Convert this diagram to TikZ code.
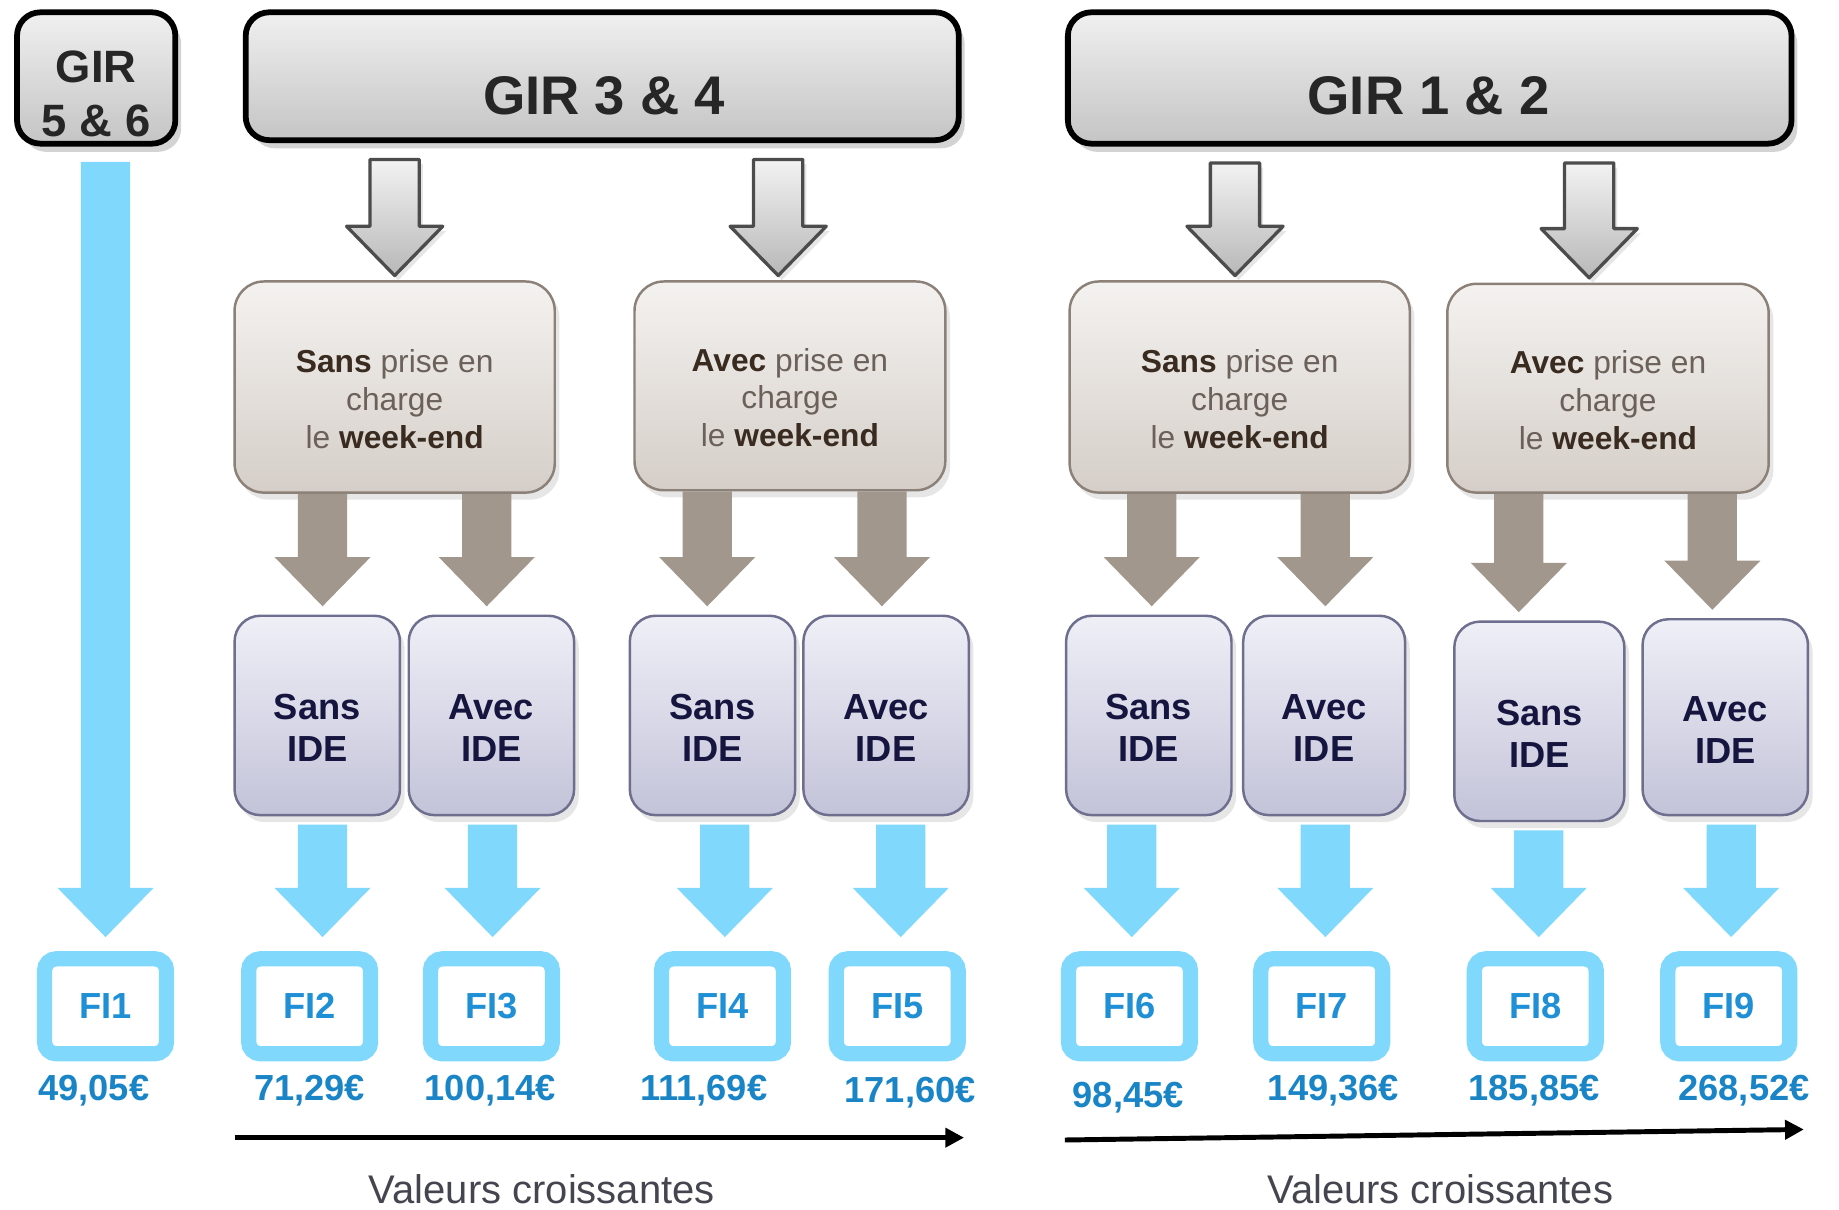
\documentclass[tikz,border=0pt]{standalone}
\usepackage{fontspec}
\setmainfont{Liberation Sans}
\usepackage{tikz}
\usetikzlibrary{calc,shadows,arrows.meta}

\definecolor{skyarrow}{HTML}{80D8FC}
\definecolor{fiblue}{HTML}{1F8FD6}
\definecolor{valblue}{HTML}{1A85C6}
\definecolor{taupe}{HTML}{A1978C}
\definecolor{wktop}{HTML}{F4F2F0}
\definecolor{wkbot}{HTML}{D5CEC8}
\definecolor{wkline}{HTML}{8C8178}
\definecolor{wkdark}{HTML}{3A2B20}
\definecolor{wklight}{HTML}{6B615A}
\definecolor{idetop}{HTML}{EFEFF7}
\definecolor{idebot}{HTML}{C3C3D9}
\definecolor{ideline}{HTML}{6E6E8E}
\definecolor{idetext}{HTML}{15153F}
\definecolor{captext}{HTML}{45454F}

\tikzstyle{hdr}=[draw=black,line width=1.4pt,rounded corners=2mm,top color=white!94!black,bottom color=white!77!black,drop shadow={opacity=0.35,shadow xshift=0.5mm,shadow yshift=-0.7mm}]
\tikzstyle{hdrtxt}=[align=center,inner sep=0pt,text=black!85,font=\bfseries\fontsize{13.2}{15}\selectfont]
\tikzstyle{wkbox}=[draw=wkline,line width=0.6pt,rounded corners=2.5mm,top color=wktop,bottom color=wkbot,align=center,text=wklight,font=\fontsize{7.7}{9.2}\selectfont,text height=29.7pt,drop shadow={opacity=0.2,shadow xshift=0.4mm,shadow yshift=-0.6mm}]
\tikzstyle{idebox}=[draw=ideline,line width=0.6pt,rounded corners=2.2mm,top color=idetop,bottom color=idebot,align=center,text=idetext,font=\bfseries\fontsize{8.8}{10.2}\selectfont,text height=22.3pt,minimum width=14.1mm,minimum height=17mm,drop shadow={opacity=0.2,shadow xshift=0.4mm,shadow yshift=-0.6mm}]
\tikzstyle{fibox}=[draw=skyarrow,line width=1.3mm,rounded corners=1mm,fill=white,minimum width=10.4mm,minimum height=8.1mm,text=fiblue,font=\bfseries\fontsize{8.8}{10}\selectfont]
\tikzstyle{val}=[inner sep=0pt,text=valblue,font=\bfseries\fontsize{8.8}{10}\selectfont]
\tikzstyle{grayarr}=[draw=black!70,line width=0.8pt,line join=round,top color=white!95!black,bottom color=white!72!black,drop shadow={opacity=0.2,shadow xshift=0.3mm,shadow yshift=-0.4mm}]
\tikzstyle{taupearr}=[fill=taupe]
\tikzstyle{skyarr}=[fill=skyarrow]
\tikzstyle{trend}=[line width=1.2pt,-{Triangle[length=1.6mm,width=1.6mm]}]

\newcommand{\dk}[1]{{\bfseries\color{wkdark}#1}}
% block arrow: style, from node, to node, x offset, start gap, end gap
\newcommand{\blockarrow}[6][]{%
  \path[#1] let \p1=(#2.south), \p2=(#3.north) in
    ({\x2+#4-2.1mm},{\y1-#5}) -- ({\x2+#4-2.1mm},{\y2+#6+4.2mm})
    -- ({\x2+#4-4.1mm},{\y2+#6+4.2mm}) -- ({\x2+#4},{\y2+#6})
    -- ({\x2+#4+4.1mm},{\y2+#6+4.2mm}) -- ({\x2+#4+2.1mm},{\y2+#6+4.2mm})
    -- ({\x2+#4+2.1mm},{\y1-#5}) -- cycle;}

\begin{document}
\begin{tikzpicture}
  \useasboundingbox (0,0) rectangle (15.68,-10.31);

  % GIR headers
  \node[hdr,minimum width=13.5mm,minimum height=11.2mm] (gir56) at (0.82,-0.665) {};
  \node[hdrtxt,font=\bfseries\fontsize{11}{13}\selectfont] (gir56t) at (0.82,-0.80) {GIR\\5 \& 6};
  \node[hdr,minimum width=60.8mm,minimum height=10.9mm] (gir34) at (5.135,-0.65) {};
  \node[hdrtxt] (gir34t) at (5.15,-0.82) {GIR 3 \& 4};
  \node[hdr,minimum width=61.7mm,minimum height=11.2mm] (gir12) at (12.19,-0.665) {};
  \node[hdrtxt] (gir12t) at (12.18,-0.82) {GIR 1 \& 2};

  % week-end boxes
  \node[wkbox,minimum width=27.3mm,minimum height=18mm] (wkA) at (3.365,-3.30) {\dk{Sans} prise en\\charge\\le \dk{week-end}};
  \node[wkbox,minimum width=26.5mm,minimum height=17.8mm] (wkB) at (6.735,-3.29) {\dk{Avec} prise en\\charge\\le \dk{week-end}};
  \node[wkbox,minimum width=29mm,minimum height=18mm] (wkC) at (10.57,-3.30) {\dk{Sans} prise en\\charge\\le \dk{week-end}};
  \node[wkbox,minimum width=27.4mm,minimum height=17.8mm] (wkD) at (13.71,-3.31) {\dk{Avec} prise en\\charge\\le \dk{week-end}};

  % IDE boxes
  \node[idebox] (ide1) at (2.705,-6.10) {Sans\\IDE};
  \node[idebox] (ide2) at (4.19,-6.10) {Avec\\IDE};
  \node[idebox] (ide3) at (6.075,-6.10) {Sans\\IDE};
  \node[idebox] (ide4) at (7.555,-6.10) {Avec\\IDE};
  \node[idebox] (ide5) at (9.795,-6.10) {Sans\\IDE};
  \node[idebox,minimum width=13.8mm] (ide6) at (11.29,-6.10) {Avec\\IDE};
  \node[idebox,minimum width=14.5mm] (ide7) at (13.125,-6.15) {Sans\\IDE};
  \node[idebox,minimum height=16.7mm] (ide8) at (14.71,-6.115) {Avec\\IDE};

  % FI boxes and values
  \node[fibox] (fi1) at (0.90,-8.58) {FI1};
  \node[fibox] (fi2) at (2.64,-8.58) {FI2};
  \node[fibox] (fi3) at (4.19,-8.58) {FI3};
  \node[fibox] (fi4) at (6.16,-8.58) {FI4};
  \node[fibox] (fi5) at (7.65,-8.58) {FI5};
  \node[fibox] (fi6) at (9.63,-8.58) {FI6};
  \node[fibox] (fi7) at (11.27,-8.58) {FI7};
  \node[fibox] (fi8) at (13.09,-8.58) {FI8};
  \node[fibox] (fi9) at (14.74,-8.58) {FI9};

  \node[val] (val1) at (0.80,-9.30) {49,05€};
  \node[val] (val2) at (2.64,-9.30) {71,29€};
  \node[val] (val3) at (4.18,-9.30) {100,14€};
  \node[val] (val4) at (6.00,-9.30) {111,69€};
  \node[val] (val5) at (7.76,-9.32) {171,60€};
  \node[val] (val6) at (9.62,-9.36) {98,45€};
  \node[val] (val7) at (11.37,-9.30) {149,36€};
  \node[val] (val8) at (13.08,-9.30) {185,85€};
  \node[val] (val9) at (14.87,-9.30) {268,52€};

  % arrows
  \blockarrow[skyarr]{gir56}{fi1}{0mm}{1.3mm}{1.2mm}
  \foreach \s/\d/\o in {gir34/wkA/0mm,gir34/wkB/-1mm,gir12/wkC/-0.4mm,gir12/wkD/-1.6mm}
    \blockarrow[grayarr]{\s}{\d}{\o}{1.4mm}{0.4mm};
  \foreach \s/\d/\o in {wkA/ide1/0.45mm,wkA/ide2/-0.4mm,wkB/ide3/-0.45mm,wkB/ide4/-0.35mm,
                        wkC/ide5/0.25mm,wkC/ide6/0.1mm,wkD/ide7/-1.75mm,wkD/ide8/-1.1mm}
    \blockarrow[taupearr]{\s}{\d}{\o}{0mm}{0.7mm};
  \foreach \s/\d/\o in {ide1/fi2/1.1mm,ide2/fi3/0.1mm,ide3/fi4/0.2mm,ide4/fi5/0.3mm,
                        ide5/fi6/0.2mm,ide6/fi7/0.3mm,ide7/fi8/0.3mm,ide8/fi9/0.2mm}
    \blockarrow[skyarr]{\s}{\d}{\o}{0.7mm}{1.2mm};

  % increasing values
  \coordinate (t1s) at (2.00,-9.70);
  \coordinate (t1e) at (8.22,-9.70);
  \coordinate (t2s) at (9.08,-9.72);
  \coordinate (t2e) at (15.38,-9.63);
  \draw[trend] (t1s) -- (t1e);
  \draw[trend] (t2s) -- (t2e);
  \node[text=captext,font=\fontsize{9.7}{11}\selectfont] (cap1) at (4.62,-10.14) {Valeurs croissantes};
  \node[text=captext,font=\fontsize{9.7}{11}\selectfont] (cap2) at (12.28,-10.14) {Valeurs croissantes};
\end{tikzpicture}
\end{document}
